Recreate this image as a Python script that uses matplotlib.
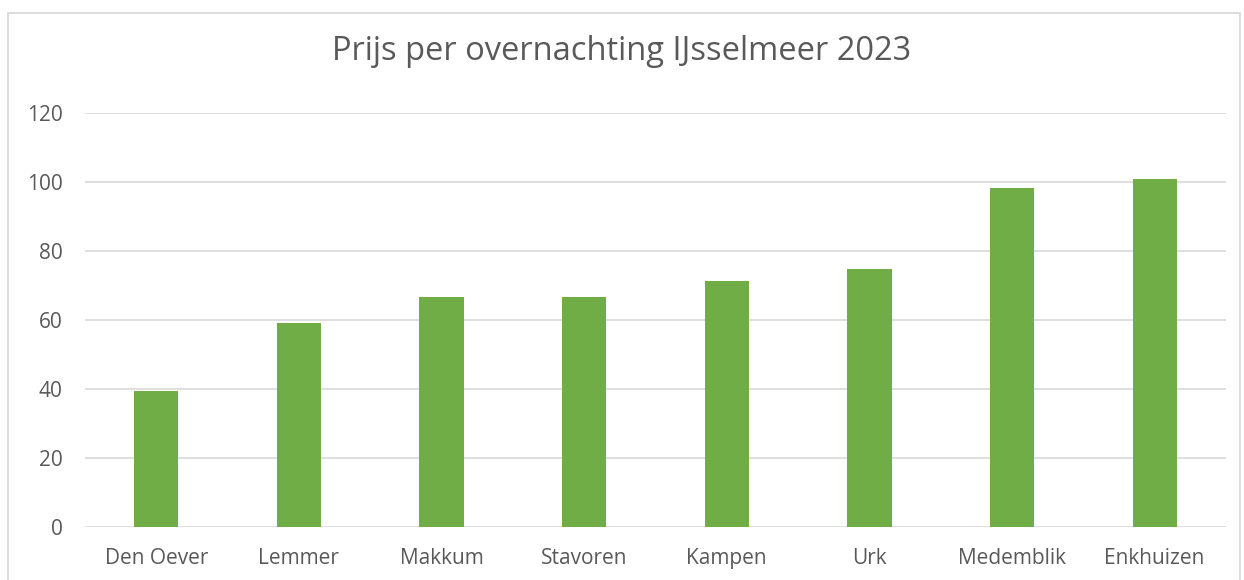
import matplotlib
matplotlib.use("Agg")
import matplotlib.pyplot as plt
from matplotlib.patches import Rectangle

categories = ["Den Oever", "Lemmer", "Makkum", "Stavoren", "Kampen", "Urk", "Medemblik", "Enkhuizen"]
values = [39.3, 59.0, 66.8, 66.8, 71.4, 74.8, 98.3, 100.8]
yticks = [0, 20, 40, 60, 80, 100, 120]
title = "Prijs per overnachting IJsselmeer 2023"

W, H = 1244, 580
plt.rcParams['font.family'] = ['Open Sans', 'DejaVu Sans']
fig = plt.figure(figsize=(W / 100, H / 100), dpi=100)
fig.patch.set_facecolor("white")

# chart border
fig.patches.append(Rectangle((8 / W, -0.05), (1240 - 8) / W, (H - 13) / H + 0.05,
                             transform=fig.transFigure, fill=False,
                             edgecolor="#D9D9D9", linewidth=1.3))

left, right = 85 / W, 1226 / W
bottom, top = (H - 527) / H, (H - 113) / H
ax = fig.add_axes([left, bottom, right - left, top - bottom])
x = list(range(len(categories)))
ax.bar(x, values, width=0.31, color="#70AD47", zorder=3)
ax.set_xlim(-0.5, len(categories) - 0.5)
ax.set_ylim(0, 120)
ax.set_yticks(yticks)
ax.set_xticks(x)
ax.set_xticklabels(categories)
ax.grid(axis="y", color="#D9D9D9", linewidth=1.2, zorder=0)
for s in ax.spines.values():
    s.set_visible(False)
ax.tick_params(axis="both", length=0, labelsize=15, colors="#595959")
ax.tick_params(axis="y", pad=16)
ax.tick_params(axis="x", pad=15)

fig.text(0.5, (H - 51) / H, title, ha="center", va="center", fontsize=23.5, color="#595959")

fig.savefig("out.png", dpi=100)
